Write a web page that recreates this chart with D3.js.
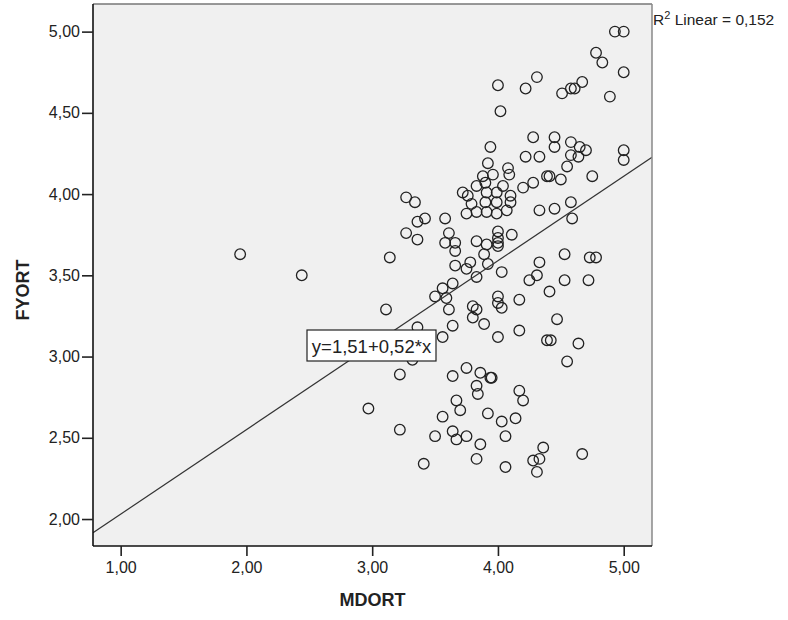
<!DOCTYPE html>
<html>
<head>
<meta charset="utf-8">
<script src="https://cdn.jsdelivr.net/npm/d3@7"></script>
<style>
  body { margin: 0; background: #fff; }
  text { font-family: "Liberation Sans", Arial, sans-serif; fill: #222; }
</style>
</head>
<body>
<script>
// MDORT values (x)
var mdort = [
  4.93, 5.00, 4.78, 4.83, 5.00, 4.89, 4.51, 4.58, 4.61, 4.67,
  4.00, 4.02, 4.22, 4.31, 3.94, 3.92, 4.28, 4.33, 4.22, 4.45,
  4.45, 4.58, 4.65, 4.70, 4.58, 4.64, 4.55, 5.00, 5.00, 4.08,
  4.09, 4.39, 4.41, 4.50, 4.28, 4.20, 4.75, 4.33, 4.45, 4.58,
  4.59, 3.88, 3.96, 3.83, 3.90, 3.72, 3.76, 3.79, 3.27, 3.34,
  3.42, 3.36, 3.58, 3.75, 3.83, 3.91, 3.99, 3.90, 3.99, 3.99,
  3.91, 3.27, 3.36, 3.14, 3.61, 3.58, 3.66, 3.66, 3.83, 3.91,
  3.89, 3.92, 4.00, 4.00, 4.00, 4.00, 3.66, 3.75, 3.78, 3.83,
  3.64, 3.56, 3.50, 3.59, 3.61, 3.11, 3.80, 3.83, 3.80, 3.89,
  3.64, 3.36, 3.56, 4.10, 4.11, 4.03, 4.33, 4.53, 4.73, 4.78,
  4.31, 4.25, 4.53, 4.72, 4.41, 4.00, 4.00, 4.03, 4.17, 4.47,
  4.17, 4.00, 4.39, 4.42, 4.64, 3.22, 3.64, 3.75, 3.86, 3.95,
  3.94, 3.83, 3.84, 2.97, 3.67, 3.70, 3.56, 3.92, 4.03, 4.14,
  3.22, 3.50, 3.64, 3.67, 3.75, 3.86, 4.06, 3.41, 3.83, 4.06,
  4.55, 4.17, 4.20, 4.36, 4.33, 4.28, 4.31, 4.67, 1.95, 2.44,
  3.32, 4.04, 4.10, 4.07
]
// FYORT values (y)
var fyort = [
  5.00, 5.00, 4.87, 4.81, 4.75, 4.60, 4.62, 4.65, 4.65, 4.69,
  4.67, 4.51, 4.65, 4.72, 4.29, 4.19, 4.35, 4.23, 4.23, 4.35,
  4.29, 4.32, 4.29, 4.27, 4.24, 4.23, 4.17, 4.27, 4.21, 4.16,
  4.12, 4.11, 4.11, 4.09, 4.07, 4.04, 4.11, 3.90, 3.91, 3.95,
  3.85, 4.11, 4.12, 4.05, 4.07, 4.01, 3.99, 3.94, 3.98, 3.95,
  3.85, 3.83, 3.85, 3.88, 3.89, 3.89, 3.88, 3.95, 3.95, 4.01,
  4.01, 3.76, 3.72, 3.61, 3.76, 3.70, 3.70, 3.65, 3.71, 3.69,
  3.63, 3.57, 3.77, 3.73, 3.70, 3.68, 3.56, 3.54, 3.58, 3.49,
  3.45, 3.42, 3.37, 3.36, 3.29, 3.29, 3.31, 3.29, 3.24, 3.20,
  3.19, 3.18, 3.12, 3.95, 3.75, 3.52, 3.58, 3.63, 3.61, 3.61,
  3.50, 3.47, 3.47, 3.47, 3.40, 3.37, 3.33, 3.30, 3.35, 3.23,
  3.16, 3.12, 3.10, 3.10, 3.08, 2.89, 2.88, 2.93, 2.90, 2.87,
  2.87, 2.82, 2.77, 2.68, 2.73, 2.67, 2.63, 2.65, 2.60, 2.62,
  2.55, 2.51, 2.54, 2.49, 2.51, 2.46, 2.51, 2.34, 2.37, 2.32,
  2.97, 2.79, 2.73, 2.44, 2.37, 2.36, 2.29, 2.40, 3.63, 3.50,
  2.98, 4.05, 3.99, 3.90
]
var xTicks = [1, 2, 3, 4, 5]
var yTicks = [2, 2.5, 3, 3.5, 4, 4.5, 5]
var intercept = 1.51
var slope = 0.52
var rSquared = 0.152

var w = 788, h = 620
var pLeft = 93, pRight = 652, pTop = 4, pBottom = 546

var locale = d3.formatLocale({ decimal: ",", thousands: ".", grouping: [3], currency: ["", ""] })
var fmt = locale.format(".2f")
var fmt3 = locale.format(".3f")

var x = d3.scaleLinear().domain([0.78, 5.225]).range([pLeft, pRight])
var y = d3.scaleLinear().domain([1.834, 5.17]).range([pBottom, pTop])

var svg = d3.select("body").append("svg")
  .attr("width", w)
  .attr("height", h)

svg.append("rect")
  .attr("x", pLeft).attr("y", pTop)
  .attr("width", pRight - pLeft).attr("height", pBottom - pTop)
  .attr("fill", "#f0f0f0")

svg.append("defs").append("clipPath").attr("id", "plotclip")
  .append("rect")
  .attr("x", pLeft).attr("y", pTop)
  .attr("width", pRight - pLeft).attr("height", pBottom - pTop)

// points
svg.append("g").selectAll("circle")
  .data(d3.zip(mdort, fyort))
  .enter()
  .append("circle")
  .attr("cx", function (d) { return x(d[0]) })
  .attr("cy", function (d) { return y(d[1]) })
  .attr("r", 5.3)
  .attr("fill", "none")
  .attr("stroke", "#222")
  .attr("stroke-width", 1.3)

// fit line
var x0 = x.domain()[0], x1 = x.domain()[1]
svg.append("line")
  .attr("clip-path", "url(#plotclip)")
  .attr("x1", x(x0)).attr("y1", y(intercept + slope * x0))
  .attr("x2", x(x1)).attr("y2", y(intercept + slope * x1))
  .attr("stroke", "#333")
  .attr("stroke-width", 1.2)

// frame: top and right in grey
svg.append("line").attr("x1", pLeft).attr("y1", pTop).attr("x2", pRight).attr("y2", pTop)
  .attr("stroke", "#777").attr("stroke-width", 1.5)
svg.append("line").attr("x1", pRight).attr("y1", pTop).attr("x2", pRight).attr("y2", pBottom)
  .attr("stroke", "#888").attr("stroke-width", 1.5)

// axes
var xAxis = d3.axisBottom(x).tickValues(xTicks).tickFormat(fmt).tickSize(10).tickPadding(6)
var yAxis = d3.axisLeft(y).tickValues(yTicks).tickFormat(fmt).tickSize(11).tickPadding(2)

var gx = svg.append("g").attr("transform", "translate(0," + pBottom + ")").call(xAxis)
var gy = svg.append("g").attr("transform", "translate(" + pLeft + ",0)").call(yAxis)

;[gx, gy].forEach(function (g) {
  g.select(".domain").attr("stroke", "#111").attr("stroke-width", 1.6)
  g.selectAll(".tick line").attr("stroke", "#222").attr("stroke-width", 1.6)
  g.selectAll(".tick text")
    .attr("font-family", "Liberation Sans, Arial, sans-serif")
    .attr("font-size", 16)
    .attr("fill", "#222")
})
gy.select(".domain").attr("d", "M0," + pTop + "V" + pBottom)
gx.select(".domain").attr("d", "M" + pLeft + ",0H" + pRight)

// axis titles
svg.append("text")
  .attr("x", (pLeft + pRight) / 2)
  .attr("y", 606)
  .attr("text-anchor", "middle")
  .attr("font-weight", "bold")
  .attr("font-size", 18)
  .text("MDORT")

svg.append("text")
  .attr("transform", "translate(29,290) rotate(-90)")
  .attr("text-anchor", "middle")
  .attr("font-weight", "bold")
  .attr("font-size", 18)
  .text("FYORT")

// R squared label
var r2 = svg.append("text")
  .attr("x", 653)
  .attr("y", 25)
  .attr("font-size", 15.5)
r2.append("tspan").text("R")
r2.append("tspan").attr("dy", -6).attr("font-size", 11).text("2")
r2.append("tspan").attr("dy", 6).text(" Linear = " + fmt3(rSquared))

// equation box
var eq = svg.append("g")
eq.append("rect")
  .attr("x", 307).attr("y", 330)
  .attr("width", 129).attr("height", 31)
  .attr("fill", "#fff")
  .attr("stroke", "#222")
  .attr("stroke-width", 1.2)
eq.append("text")
  .attr("x", 371.5).attr("y", 353)
  .attr("text-anchor", "middle")
  .attr("font-size", 18.5)
  .text("y=" + fmt(intercept) + "+" + fmt(slope) + "*x")
</script>
</body>
</html>
